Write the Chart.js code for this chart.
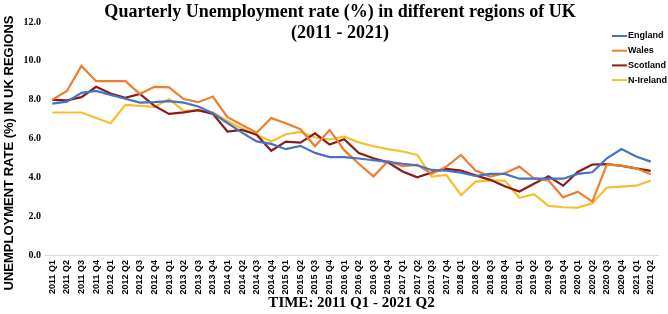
<!DOCTYPE html>
<html>
<head>
<meta charset="utf-8">
<script src="https://cdn.jsdelivr.net/npm/chart.js@4"></script>
<style>
html,body{margin:0;padding:0;background:#fff;}
#wrap{width:668px;height:314px;}
</style>
</head>
<body>
<div id="wrap"><canvas id="c" width="668" height="314"></canvas></div>
<script>
const categories = [];
const years = [2011,2012,2013,2014,2015,2016,2017,2018,2019,2020,2021];
for (const y of years) { for (let q = 1; q <= 4; q++) { if (y === 2021 && q > 2) break; categories.push(y + ' Q' + q); } }

const england = [7.8,7.9,8.35,8.45,8.25,8.05,7.85,7.87,7.92,7.85,7.65,7.3,6.8,6.3,5.85,5.72,5.45,5.62,5.26,5.04,5.04,4.97,4.88,4.8,4.7,4.62,4.38,4.34,4.24,4.07,4.18,4.18,3.93,3.93,3.93,3.93,4.18,4.26,4.98,5.46,5.07,4.81];
const wales = [8.0,8.45,9.74,8.95,8.95,8.95,8.3,8.66,8.63,8.03,7.87,8.16,7.1,6.7,6.3,7.05,6.79,6.48,5.6,6.44,5.4,4.7,4.05,4.83,4.58,4.64,4.18,4.55,5.15,4.35,4.04,4.21,4.55,3.95,3.83,2.97,3.26,2.75,4.67,4.6,4.47,4.16];
const scotland = [7.99,7.96,8.13,8.66,8.32,8.09,8.3,7.68,7.27,7.35,7.46,7.27,6.36,6.44,6.19,5.37,5.84,5.79,6.27,5.69,5.96,5.25,4.98,4.77,4.3,4.0,4.25,4.44,4.35,4.1,3.87,3.54,3.27,3.67,4.05,3.57,4.28,4.66,4.68,4.59,4.46,4.33];
const nIreland = [7.34,7.34,7.34,7.06,6.79,7.73,7.68,7.63,8.03,7.42,7.44,7.35,6.9,6.5,6.19,5.84,6.22,6.34,6.05,5.95,6.1,5.8,5.6,5.45,5.33,5.15,4.04,4.12,3.09,3.78,3.83,3.83,2.95,3.13,2.53,2.46,2.44,2.66,3.47,3.52,3.57,3.83];

const seriesNames = ['England','Wales','Scotland','N-Ireland'];
const seriesColors = ['#4472C4','#ED7D31','#8B1A1A','#F5C02B'];
const seriesValues = [england, wales, scotland, nIreland];

const titleLines = ['Quarterly Unemployment rate (%) in different regions of UK', '(2011 - 2021)'];
const yTitle = 'UNEMPLOYMENT RATE (%) IN UK REGIONS';
const xTitle = 'TIME: 2011 Q1 - 2021 Q2';

const overlay = {
  id: 'overlay',
  afterDraw(chart) {
    const ctx = chart.ctx;
    ctx.save();
    ctx.fillStyle = '#000';
    ctx.textAlign = 'center';
    ctx.textBaseline = 'middle';
    ctx.font = 'bold 18px "Liberation Serif"';
    ctx.fillText(titleLines[0], 340, 12);
    ctx.fillText(titleLines[1], 340, 33);
    // y axis title
    ctx.save();
    ctx.translate(9, 153);
    ctx.rotate(-Math.PI / 2);
    ctx.font = 'bold 13px "Liberation Sans"';
    ctx.fillText(yTitle, 0, 0);
    ctx.restore();
    // legend
    ctx.textAlign = 'left';
    ctx.font = 'bold 9px "Liberation Sans"';
    chart.data.datasets.forEach((ds, i) => {
      const y = 36 + i * 14.7;
      ctx.strokeStyle = ds.borderColor;
      ctx.lineWidth = 2;
      ctx.beginPath();
      ctx.moveTo(612, y);
      ctx.lineTo(627, y);
      ctx.stroke();
      ctx.fillStyle = '#000';
      ctx.fillText(ds.label, 628, y);
    });
    ctx.restore();
  }
};

new Chart(document.getElementById('c'), {
  type: 'line',
  data: {
    labels: categories,
    datasets: seriesNames.map((n, i) => ({
      label: n,
      data: seriesValues[i],
      borderColor: seriesColors[i],
      backgroundColor: seriesColors[i],
      borderWidth: 2.2,
      pointRadius: 0,
      tension: 0,
      fill: false
    }))
  },
  options: {
    responsive: false,
    animation: false,
    layout: { padding: { top: 22, right: 10, left: 0, bottom: 0 } },
    plugins: {
      legend: { display: false },
      title: { display: false },
      tooltip: { enabled: false }
    },
    scales: {
      x: {
        offset: true,
        grid: { display: false, drawTicks: false },
        border: { display: true, color: '#d9d9d9', width: 1 },
        ticks: {
          autoSkip: false, maxRotation: 90, minRotation: 90, padding: 5,
          color: '#000', font: { family: '"Liberation Sans"', weight: 'bold', size: 9 }
        },
        title: {
          display: true, text: xTitle, color: '#000',
          font: { family: '"Liberation Serif"', weight: 'bold', size: 15 },
          padding: { top: 0, bottom: 2 }
        },
        afterFit(scale) { scale.height = 59; }
      },
      y: {
        min: 0, max: 12,
        grid: { display: false, drawTicks: false },
        border: { display: false },
        ticks: {
          stepSize: 2, padding: 4, color: '#000',
          font: { family: '"Liberation Serif"', weight: 'bold', size: 10 },
          callback: v => Number(v).toFixed(1)
        },
        title: { display: false },
        afterFit(scale) { scale.width = 45; }
      }
    }
  },
  plugins: [overlay]
});
</script>
</body>
</html>
